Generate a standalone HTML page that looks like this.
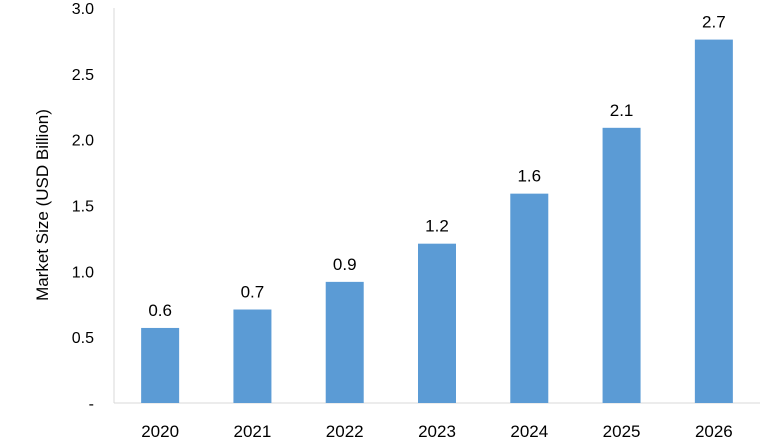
<!DOCTYPE html>
<html><head><meta charset="utf-8"><style>
body{margin:0;background:#fff;}
svg{display:block;font-family:"Liberation Sans",sans-serif;}
</style></head><body>
<svg id="chart" width="780" height="440" viewBox="0 0 780 440">
<text transform="translate(48,205) rotate(-90)" text-anchor="middle" font-size="17" fill="#000">Market Size (USD Billion)</text>
<g id="axes"></g><g id="bars"></g>
</svg>
<script>
const categories=["2020","2021","2022","2023","2024","2025","2026"];
const values=[0.57,0.71,0.92,1.21,1.59,2.09,2.76];
const valueLabels=["0.6","0.7","0.9","1.2","1.6","2.1","2.7"];
const tickValues=[0,0.5,1.0,1.5,2.0,2.5,3.0];
const tickLabels=["-","0.5","1.0","1.5","2.0","2.5","3.0"];
const NS="http://www.w3.org/2000/svg";
const x0=114,x1=760,yTop=8,yBot=403,yMax=3;
const y=v=>yBot-(v/yMax)*(yBot-yTop);
const step=(x1-x0)/categories.length;
const xc=i=>x0+step*(i+0.5);
function mk(t,a,p){const e=document.createElementNS(NS,t);for(const k in a)e.setAttribute(k,a[k]);p.appendChild(e);return e;}
const axes=document.getElementById('axes'),bars=document.getElementById('bars');
const ya=mk('line',{x1:x0,y1:yTop,x2:x0,y2:yBot,stroke:'#d9d9d9','stroke-width':1},axes);


const xa=mk('line',{x1:x0,y1:yBot,x2:x1,y2:yBot,stroke:'#d9d9d9','stroke-width':1},axes);


tickValues.forEach((v,i)=>{
 const t=mk('text',{x:x0-20,y:y(v)+6,'text-anchor':'end','font-size':16,fill:'#000'},axes);
 t.textContent=tickLabels[i];
 
 
});
categories.forEach((c,i)=>{
 const w=38;
 const r=mk('rect',{x:xc(i)-w/2,y:y(values[i]),width:w,height:yBot-y(values[i]),fill:'#5b9bd5'},bars);
 
 
 const l=mk('text',{x:xc(i),y:y(values[i])-12,'text-anchor':'middle','font-size':17,fill:'#000'},bars);
 l.textContent=valueLabels[i];
 
 
 const xl=mk('text',{x:xc(i),y:437,'text-anchor':'middle','font-size':17,fill:'#000'},axes);
 xl.textContent=c;
 
 
});
</script>
</body></html>
